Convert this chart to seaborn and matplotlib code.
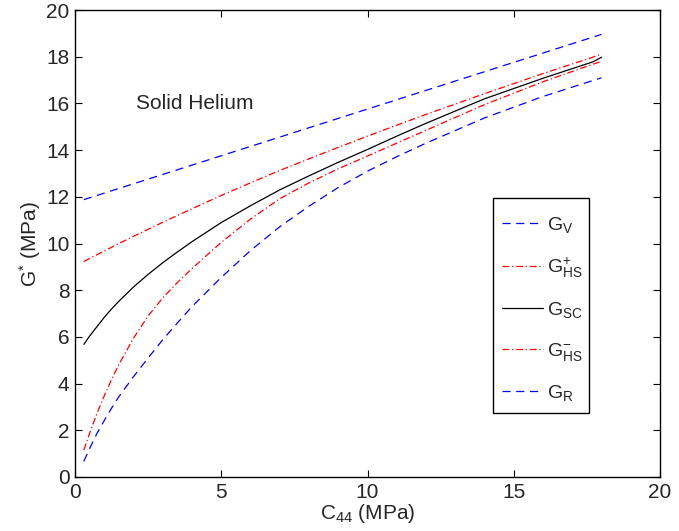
import numpy as np
import pandas as pd
import matplotlib
matplotlib.use("Agg")
import matplotlib.pyplot as plt
import matplotlib.patches as patches
import seaborn as sns

# C44 values (MPa) shared by all curves
c44 = [0.3, 0.5, 0.75, 1, 1.25, 1.5, 2, 2.5, 3, 3.5, 4, 5, 6, 7, 8, 9, 10, 11, 12, 14, 16, 17.7, 18]

# shear modulus bounds / estimate (MPa)
g_v = [11.88, 11.96, 12.06, 12.16, 12.26, 12.36, 12.56, 12.76, 12.96, 13.16, 13.36, 13.76,
       14.16, 14.56, 14.96, 15.36, 15.76, 16.16, 16.56, 17.36, 18.16, 18.84, 18.96]
g_hs_plus = [9.23, 9.36, 9.52, 9.68, 9.84, 10.0, 10.31, 10.61, 10.91, 11.2, 11.49, 12.06,
             12.6, 13.13, 13.63, 14.12, 14.6, 15.07, 15.53, 16.42, 17.28, 17.98, 18.12]
g_sc = [5.68, 6.04, 6.44, 6.84, 7.2, 7.53, 8.14, 8.68, 9.18, 9.64, 10.08, 10.9,
        11.62, 12.3, 12.9, 13.48, 14.03, 14.6, 15.15, 16.2, 17.08, 17.78, 17.98]
g_hs_minus = [1.15, 1.88, 2.72, 3.48, 4.18, 4.82, 5.95, 6.9, 7.67, 8.33, 8.93, 10.05,
              11.05, 11.92, 12.6, 13.2, 13.75, 14.3, 14.85, 15.95, 16.93, 17.68, 17.8]
g_r = [0.67, 1.22, 1.87, 2.42, 2.95, 3.44, 4.3, 5.1, 5.88, 6.6, 7.3, 8.55,
       9.7, 10.72, 11.6, 12.4, 13.1, 13.72, 14.3, 15.38, 16.3, 16.98, 17.1]

labels = [r"$G_V$", r"$G^{+}_{HS}$", r"$G_{SC}$", r"$G^{-}_{HS}$", r"$G_R$"]

sns.set_theme(style="ticks")
plt.rcParams["font.family"] = ["Liberation Sans", "DejaVu Sans"]
plt.rcParams["mathtext.fontset"] = "custom"
plt.rcParams["mathtext.rm"] = "Liberation Sans"
plt.rcParams["mathtext.it"] = "Liberation Sans"
plt.rcParams["mathtext.default"] = "regular"
plt.rcParams["xtick.direction"] = "in"
plt.rcParams["ytick.direction"] = "in"

fig = plt.figure(figsize=(6.79, 5.31), dpi=100)
ax = fig.add_axes([0.1105, 0.1017, 0.8615, 0.8793])

dashed = (0, (6.5, 4.5))
dashdot = (0, (5.5, 2.2, 1, 2.2))
styles = [
    (g_v, "#0000ff", dashed),
    (g_hs_plus, "#ff0000", dashdot),
    (g_sc, "black", "-"),
    (g_hs_minus, "#ff0000", dashdot),
    (g_r, "#0000ff", dashed),
]
for (vals, col, ls), lab in zip(styles, labels):
    sns.lineplot(x=c44, y=vals, ax=ax, color=col, linestyle=ls, linewidth=0.9, label=lab)

ax.set_xlim(0, 20)
ax.set_ylim(0, 20)
ax.set_xticks(range(0, 21, 5))
ax.set_yticks(range(0, 21, 2))
ax.tick_params(axis="both", which="both", labelsize=15, top=True, right=True,
               length=5, width=0.8, color="black", pad=4)
for sp in ax.spines.values():
    sp.set_color("black")
    sp.set_linewidth(1.0)

ax.set_xlabel(r"C$_{44}$ (MPa)", fontsize=15, labelpad=0)
ax.set_ylabel(r"G$^{*}$ (MPa)", fontsize=15, labelpad=2)
ax.text(2.1, 16.0, "Solid Helium", fontsize=15, va="center", ha="left")

# matlab-style legend box
box = patches.Rectangle((0.714, 0.137), 0.165, 0.46, transform=ax.transAxes,
                        facecolor="white", edgecolor="black", linewidth=1.0, zorder=4)
ax.add_patch(box)
leg = ax.legend(loc="upper left", bbox_to_anchor=(0.730, 0.561), borderaxespad=0,
                fontsize=14, labelspacing=1.05, handlelength=2.1, handletextpad=0.2,
                frameon=False, borderpad=0)
leg.set_zorder(5)

fig.savefig("out.png", dpi=100, facecolor="white")
